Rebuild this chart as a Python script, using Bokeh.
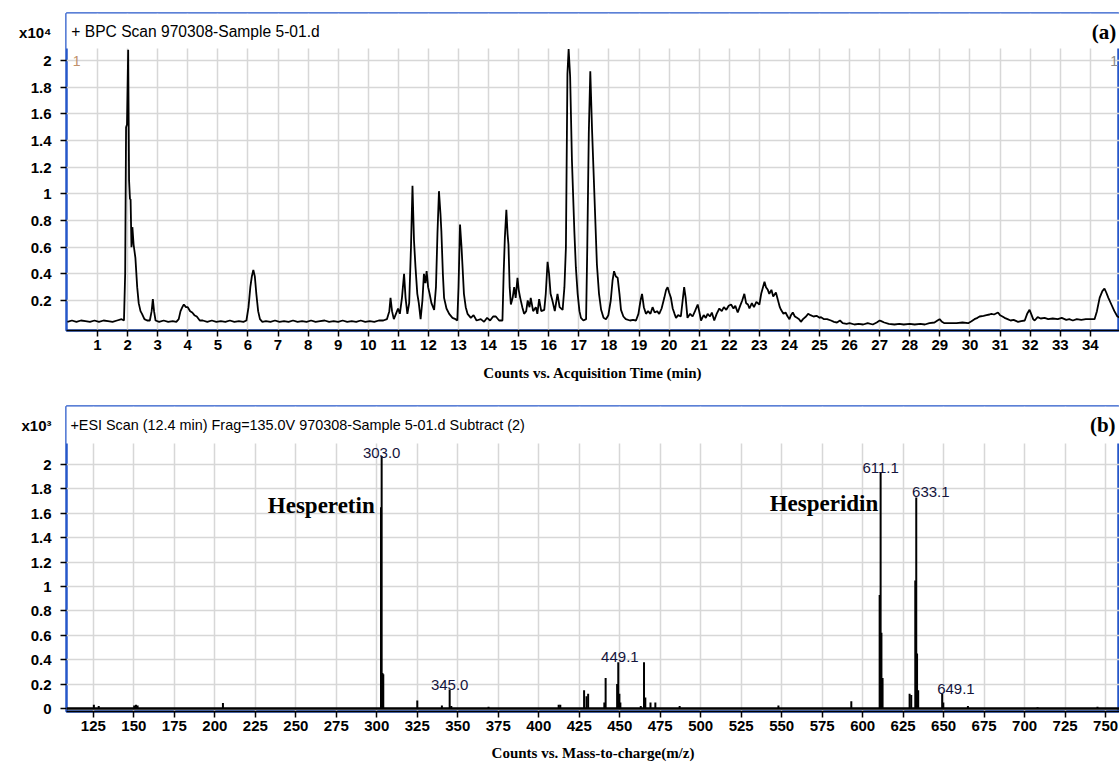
from bokeh.plotting import figure
from bokeh.models import FixedTicker, CustomJSTickFormatter, Label, Span, Range1d, Title
from bokeh.layouts import column
from bokeh.embed import file_html
from bokeh.resources import INLINE

# ---------------- data: (a) BPC chromatogram, counts x10^4 vs minutes ----------------
bpc_points = [
    (0.00, 0.040), (0.15, 0.050), (0.30, 0.040), (0.45, 0.050), (0.60, 0.045), (0.75, 0.040),
    (0.90, 0.050), (1.05, 0.040), (1.20, 0.050), (1.35, 0.045), (1.50, 0.040), (1.65, 0.050),
    (1.80, 0.060), (1.88, 0.050), (1.92, 0.400), (1.95, 1.500), (1.98, 1.520), (2.02, 2.080),
    (2.05, 1.100), (2.08, 0.960), (2.10, 0.960), (2.13, 0.600), (2.16, 0.750), (2.20, 0.620),
    (2.26, 0.520), (2.32, 0.300), (2.37, 0.180), (2.43, 0.120), (2.48, 0.100), (2.56, 0.060),
    (2.65, 0.050), (2.74, 0.050), (2.80, 0.120), (2.84, 0.210), (2.88, 0.120), (2.93, 0.050),
    (3.05, 0.040), (3.20, 0.050), (3.35, 0.040), (3.50, 0.045), (3.62, 0.040), (3.70, 0.060),
    (3.76, 0.120), (3.82, 0.150), (3.87, 0.170), (3.94, 0.150), (4.00, 0.150), (4.08, 0.120),
    (4.15, 0.110), (4.22, 0.090), (4.30, 0.080), (4.40, 0.050), (4.50, 0.050), (4.65, 0.040),
    (4.80, 0.050), (4.95, 0.040), (5.10, 0.045), (5.25, 0.040), (5.40, 0.050), (5.55, 0.040),
    (5.70, 0.045), (5.85, 0.040), (5.95, 0.050), (6.02, 0.150), (6.08, 0.300), (6.13, 0.380),
    (6.18, 0.430), (6.23, 0.380), (6.28, 0.250), (6.34, 0.120), (6.40, 0.060), (6.48, 0.040),
    (6.60, 0.045), (6.75, 0.040), (6.90, 0.050), (7.05, 0.040), (7.20, 0.045), (7.35, 0.040),
    (7.50, 0.050), (7.65, 0.040), (7.80, 0.045), (7.95, 0.040), (8.10, 0.050), (8.25, 0.040),
    (8.40, 0.045), (8.55, 0.050), (8.70, 0.040), (8.85, 0.045), (9.00, 0.040), (9.15, 0.050),
    (9.30, 0.040), (9.45, 0.045), (9.60, 0.040), (9.75, 0.050), (9.90, 0.040), (10.05, 0.045),
    (10.20, 0.040), (10.35, 0.050), (10.50, 0.050), (10.62, 0.060), (10.70, 0.120), (10.74, 0.220),
    (10.79, 0.120), (10.85, 0.060), (10.92, 0.100), (10.99, 0.140), (11.05, 0.100), (11.12, 0.220),
    (11.19, 0.400), (11.24, 0.220), (11.30, 0.100), (11.36, 0.180), (11.42, 0.600), (11.47, 1.060),
    (11.52, 0.650), (11.57, 0.450), (11.63, 0.250), (11.68, 0.180), (11.74, 0.060), (11.80, 0.200),
    (11.85, 0.400), (11.90, 0.330), (11.94, 0.420), (11.99, 0.300), (12.04, 0.250), (12.10, 0.180),
    (12.19, 0.130), (12.25, 0.300), (12.30, 0.700), (12.35, 1.020), (12.40, 0.850), (12.43, 0.720),
    (12.48, 0.400), (12.52, 0.220), (12.60, 0.140), (12.69, 0.100), (12.80, 0.070), (12.90, 0.060),
    (12.96, 0.050), (13.00, 0.300), (13.05, 0.770), (13.10, 0.600), (13.13, 0.470), (13.18, 0.250),
    (13.24, 0.150), (13.30, 0.100), (13.41, 0.070), (13.50, 0.090), (13.60, 0.050), (13.74, 0.060),
    (13.85, 0.040), (13.95, 0.070), (14.05, 0.050), (14.15, 0.080), (14.24, 0.080), (14.35, 0.050),
    (14.46, 0.050), (14.50, 0.400), (14.54, 0.670), (14.59, 0.880), (14.63, 0.700), (14.66, 0.620),
    (14.70, 0.300), (14.74, 0.170), (14.80, 0.220), (14.85, 0.300), (14.90, 0.220), (14.96, 0.370),
    (15.00, 0.280), (15.05, 0.220), (15.12, 0.150), (15.18, 0.100), (15.25, 0.120), (15.30, 0.200),
    (15.36, 0.150), (15.40, 0.220), (15.48, 0.120), (15.57, 0.150), (15.62, 0.100), (15.68, 0.210),
    (15.75, 0.120), (15.85, 0.130), (15.90, 0.250), (15.96, 0.490), (16.01, 0.400), (16.06, 0.250),
    (16.12, 0.200), (16.20, 0.120), (16.29, 0.250), (16.36, 0.150), (16.46, 0.130), (16.52, 0.300),
    (16.57, 0.600), (16.62, 1.900), (16.66, 2.085), (16.71, 1.880), (16.77, 1.250), (16.85, 0.720),
    (16.90, 0.450), (16.96, 0.250), (17.02, 0.120), (17.07, 0.070), (17.15, 0.050), (17.24, 0.060),
    (17.28, 0.600), (17.33, 1.450), (17.38, 1.920), (17.44, 1.470), (17.52, 0.970), (17.60, 0.470),
    (17.67, 0.250), (17.74, 0.130), (17.82, 0.070), (17.90, 0.060), (17.98, 0.090), (18.06, 0.200),
    (18.12, 0.350), (18.17, 0.420), (18.23, 0.380), (18.29, 0.370), (18.35, 0.250), (18.40, 0.130),
    (18.48, 0.080), (18.56, 0.060), (18.70, 0.050), (18.80, 0.055), (18.90, 0.050), (18.98, 0.100),
    (19.05, 0.200), (19.10, 0.250), (19.16, 0.150), (19.23, 0.100), (19.30, 0.120), (19.38, 0.100),
    (19.45, 0.150), (19.52, 0.110), (19.60, 0.120), (19.67, 0.100), (19.75, 0.140), (19.84, 0.220),
    (19.90, 0.280), (19.95, 0.300), (20.00, 0.260), (20.06, 0.220), (20.12, 0.140), (20.18, 0.100),
    (20.23, 0.070), (20.30, 0.090), (20.39, 0.080), (20.45, 0.200), (20.50, 0.300), (20.55, 0.220),
    (20.61, 0.070), (20.70, 0.100), (20.78, 0.080), (20.86, 0.120), (20.95, 0.170), (21.00, 0.120),
    (21.06, 0.050), (21.15, 0.090), (21.22, 0.070), (21.28, 0.100), (21.36, 0.080), (21.42, 0.110),
    (21.50, 0.050), (21.58, 0.100), (21.67, 0.140), (21.75, 0.120), (21.82, 0.150), (21.90, 0.130),
    (21.98, 0.160), (22.06, 0.170), (22.14, 0.140), (22.20, 0.160), (22.28, 0.110), (22.36, 0.160),
    (22.43, 0.200), (22.50, 0.250), (22.56, 0.180), (22.62, 0.170), (22.67, 0.140), (22.75, 0.180),
    (22.82, 0.150), (22.90, 0.190), (23.00, 0.170), (23.06, 0.250), (23.12, 0.300), (23.17, 0.340),
    (23.22, 0.300), (23.28, 0.280), (23.33, 0.250), (23.40, 0.280), (23.46, 0.230), (23.55, 0.260),
    (23.62, 0.200), (23.68, 0.150), (23.72, 0.130), (23.80, 0.100), (23.87, 0.110), (23.94, 0.080),
    (24.00, 0.060), (24.05, 0.090), (24.11, 0.110), (24.18, 0.080), (24.25, 0.070), (24.32, 0.060),
    (24.38, 0.040), (24.45, 0.060), (24.55, 0.080), (24.62, 0.100), (24.70, 0.090), (24.80, 0.080),
    (24.90, 0.085), (25.00, 0.070), (25.05, 0.075), (25.15, 0.060), (25.25, 0.060), (25.38, 0.050),
    (25.48, 0.040), (25.58, 0.035), (25.68, 0.050), (25.77, 0.030), (25.90, 0.025), (26.00, 0.030),
    (26.16, 0.020), (26.30, 0.025), (26.45, 0.020), (26.60, 0.030), (26.77, 0.020), (26.90, 0.035),
    (27.00, 0.050), (27.05, 0.045), (27.15, 0.035), (27.30, 0.025), (27.49, 0.020), (27.65, 0.025),
    (27.80, 0.020), (28.00, 0.025), (28.16, 0.020), (28.35, 0.025), (28.50, 0.020), (28.65, 0.030),
    (28.82, 0.035), (28.92, 0.050), (28.99, 0.060), (29.07, 0.040), (29.15, 0.030), (29.35, 0.030),
    (29.55, 0.030), (29.75, 0.035), (29.94, 0.030), (30.05, 0.045), (30.15, 0.060), (30.25, 0.070),
    (30.32, 0.080), (30.45, 0.085), (30.55, 0.090), (30.65, 0.095), (30.71, 0.100), (30.80, 0.095),
    (30.93, 0.110), (31.00, 0.090), (31.08, 0.080), (31.15, 0.070), (31.25, 0.060), (31.35, 0.050),
    (31.45, 0.055), (31.60, 0.040), (31.70, 0.045), (31.82, 0.050), (31.90, 0.100), (31.98, 0.130),
    (32.05, 0.090), (32.10, 0.060), (32.15, 0.050), (32.25, 0.075), (32.35, 0.065), (32.48, 0.070),
    (32.60, 0.060), (32.75, 0.065), (32.92, 0.060), (33.05, 0.070), (33.20, 0.055), (33.30, 0.060),
    (33.42, 0.050), (33.55, 0.060), (33.70, 0.055), (33.85, 0.060), (34.00, 0.060), (34.14, 0.060),
    (34.22, 0.120), (34.31, 0.220), (34.40, 0.270), (34.47, 0.290), (34.53, 0.260), (34.60, 0.220),
    (34.70, 0.170), (34.80, 0.120), (34.90, 0.080), (34.99, 0.070),
]
time_min = [p[0] for p in bpc_points]
counts_e4 = [p[1] for p in bpc_points]

x_ticks_a = list(range(1, 35))
y_ticks_a = [0.2, 0.4, 0.6, 0.8, 1.0, 1.2, 1.4, 1.6, 1.8, 2.0]

# ---------------- data: (b) ESI mass spectrum, counts x10^3 vs m/z ----------------
ms_peaks = [
    (125.3, 0.030), (128.3, 0.020), (150.2, 0.025), (151.3, 0.030), (152.3, 0.025),
    (205.0, 0.045), (302.6, 1.650), (303.0, 2.070), (303.5, 0.290), (304.0, 0.280),
    (325.0, 0.065), (340.2, 0.025), (345.0, 0.155), (346.0, 0.020), (369.0, 0.015),
    (412.3, 0.030), (413.3, 0.030), (428.0, 0.150), (429.5, 0.100), (430.5, 0.120),
    (440.5, 0.050), (441.3, 0.250), (448.4, 0.200), (449.1, 0.380), (449.8, 0.120),
    (450.4, 0.050), (463.0, 0.020), (465.0, 0.380), (465.8, 0.090), (469.0, 0.050),
    (472.0, 0.050), (487.0, 0.020), (548.0, 0.025), (593.0, 0.060), (610.5, 0.930),
    (611.1, 1.930), (611.6, 0.620), (612.3, 0.250), (629.0, 0.120), (630.0, 0.110),
    (632.5, 1.050), (633.1, 1.730), (633.6, 0.450), (634.3, 0.150), (649.1, 0.120),
    (649.8, 0.050), (665.0, 0.020), (708.0, 0.010), (745.0, 0.015),
]
mz = [p[0] for p in ms_peaks]
abund_e3 = [p[1] for p in ms_peaks]

label_text = ["303.0", "345.0", "449.1", "611.1", "633.1", "649.1"]
label_mz = [303.0, 345.0, 449.1, 611.1, 633.1, 649.1]
label_abund = [2.05, 0.155, 0.38, 1.93, 1.73, 0.12]
label_shift = [0.0, 0.0, 1.0, 0.0, 9.0, 8.5]

x_ticks_b = list(range(125, 751, 25))
y_ticks_b = [0.0, 0.2, 0.4, 0.6, 0.8, 1.0, 1.2, 1.4, 1.6, 1.8, 2.0]

# ---------------- styling ----------------
BLUE = "#2657c9"
GRID = "#d7d7d7"
SANS = "Liberation Sans"
SERIF = "Liberation Serif"


def style_axes(p, xt, yt, scale_tick, scale_text, ybounds):
    p.xaxis.ticker = FixedTicker(ticks=xt)
    # major ticks carry the labels (incl. the scale factor in the header row);
    # the visible tick marks are the minor ticks at the data ticks
    p.yaxis.ticker = FixedTicker(ticks=yt + [scale_tick], minor_ticks=yt)
    p.xgrid.ticker = FixedTicker(ticks=xt)
    p.ygrid.ticker = FixedTicker(ticks=yt)
    p.yaxis.formatter = CustomJSTickFormatter(
        code="if (tick > 2.1) { return '%s'; } return (Math.round(tick*10)/10).toString();" % scale_text)
    p.yaxis.bounds = ybounds
    for ax in (p.xaxis[0], p.yaxis[0]):
        ax.major_label_text_font = SANS
        ax.major_label_text_font_style = "bold"
        ax.major_label_text_font_size = "15px"
        ax.major_label_text_color = "black"
        ax.major_tick_in = 0
        ax.major_tick_line_width = 1.5
        ax.axis_line_width = 1.5
        ax.axis_line_color = "black"
    p.xaxis.major_tick_out = 6
    p.xaxis.minor_tick_line_color = None
    p.xaxis.major_label_standoff = 3
    p.yaxis.major_tick_out = 0
    p.yaxis.minor_tick_in = 0
    p.yaxis.minor_tick_out = 6
    p.yaxis.minor_tick_line_width = 1.5
    p.yaxis.minor_tick_line_color = "black"
    p.yaxis.axis_line_color = None
    p.yaxis.major_label_standoff = 9
    for g in (p.xgrid[0], p.ygrid[0]):
        g.grid_line_color = GRID
        g.grid_line_width = 1.5
    p.outline_line_color = BLUE
    p.outline_line_width = 2.5
    p.background_fill_color = "white"
    p.border_fill_color = "white"


def lab(p, x, y, text, size, font=SANS, style="normal", color="black", align="left", base="middle"):
    p.add_layout(Label(x=x, y=y, text=text, text_font=font, text_font_size=size,
                       text_font_style=style, text_color=color, text_align=align,
                       text_baseline=base))


def axis_title(p, text, offset, standoff):
    p.add_layout(Title(text=text, align="center", offset=offset, standoff=standoff,
                       text_font=SERIF, text_font_style="bold", text_font_size="15px",
                       text_color="black"), "below")


# ---------------- panel (a) ----------------
pa = figure(width=1119, height=392, x_range=Range1d(-0.03, 34.97), y_range=Range1d(-0.025, 2.3525),
            output_backend="svg", toolbar_location=None, title_location=None,
            min_border_left=66, min_border_right=0, min_border_top=13, min_border_bottom=62)
style_axes(pa, x_ticks_a, y_ticks_a, 2.21, "x10\u2074", (-0.025, 2.25))
pa.quad(left=-1, right=36, bottom=2.09, top=2.36, fill_color="white", line_color=None)
pa.line(time_min, counts_e4, line_color="black", line_width=1.8)

lab(pa, 0.13, 2.215, "+ BPC Scan 970308-Sample 5-01.d", "15.6px")
lab(pa, 34.86, 2.215, "(a)", "21px", font=SERIF, style="bold", align="right")
lab(pa, 0.18, 2.0, "1", "14px", color="#c0906a")
lab(pa, 34.92, 2.0, "1", "14px", color="#8a8a8a", align="right")
axis_title(pa, "Counts vs. Acquisition Time (min)", 20, 20)

# ---------------- panel (b) ----------------
pb = figure(width=1119, height=379, x_range=Range1d(108.4, 758.6), y_range=Range1d(-0.0246, 2.475),
            output_backend="svg", toolbar_location=None, title_location=None,
            min_border_left=61, min_border_right=0, min_border_top=14, min_border_bottom=60)
style_axes(pb, x_ticks_b, y_ticks_b, 2.32, "x10\u00b3", (-0.0246, 2.36))
pb.quad(left=100, right=770, bottom=2.172, top=2.48, fill_color="white", line_color=None)
pb.add_layout(Span(location=0, dimension="width", line_color="black", line_width=2.5))
pb.segment(x0=mz, y0=[0] * len(mz), x1=mz, y1=abund_e3, line_color="black", line_width=2)

for t, m, a, s in zip(label_text, label_mz, label_abund, label_shift):
    lab(pb, m + s, a, t, "15px", color="#14143c", align="center", base="bottom")

lab(pb, 265.7, 1.66, "Hesperetin", "23px", font=SERIF, style="bold", align="center")
lab(pb, 576.1, 1.68, "Hesperidin", "23px", font=SERIF, style="bold", align="center")
lab(pb, 110.8, 2.32, "+ESI Scan (12.4 min) Frag=135.0V 970308-Sample 5-01.d  Subtract (2)", "14.4px")
lab(pb, 756.2, 2.32, "(b)", "21px", font=SERIF, style="bold", align="right")
axis_title(pb, "Counts vs. Mass-to-charge(m/z)", 11, 19)

layout = column(pa, pb, spacing=0)
open("out.html", "w").write(file_html(layout, INLINE))
